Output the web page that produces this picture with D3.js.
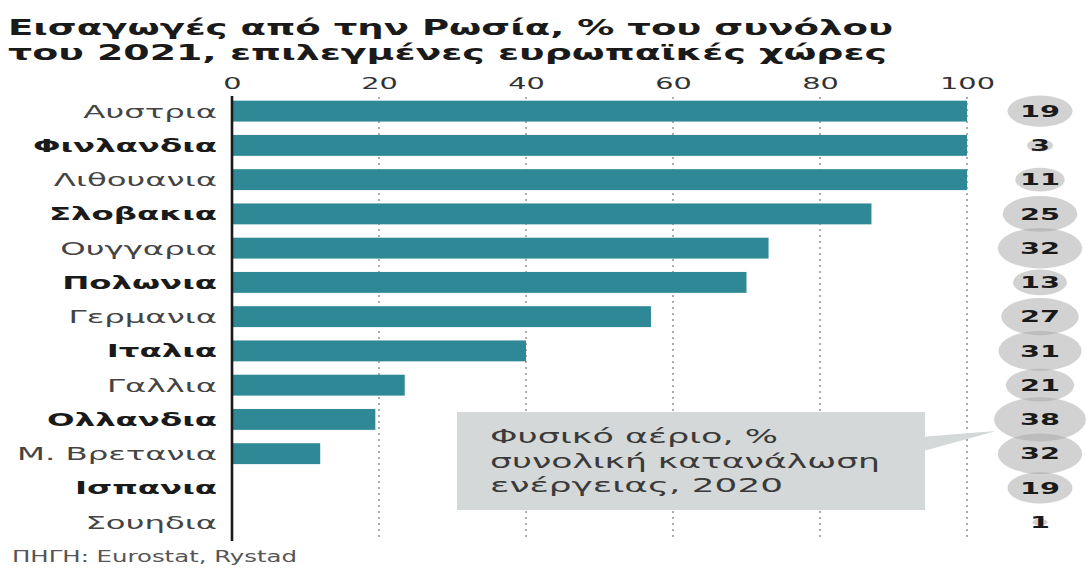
<!DOCTYPE html>
<html lang="el">
<head>
<meta charset="utf-8">
<script src="https://cdn.jsdelivr.net/npm/d3@7"></script>
<style>
  html, body { margin: 0; padding: 0; background: #fff; }
  svg { display: block; font-family: "DejaVu Sans", Verdana, sans-serif; }
</style>
</head>
<body>
<svg id="chart" width="1086" height="571"></svg>
<script>
// Imports from Russia, % of 2021 total, selected European countries
const countries = ["Αυστρια", "Φινλανδια", "Λιθουανια", "Σλοβακια", "Ουγγαρια", "Πολωνια",
  "Γερμανια", "Ιταλια", "Γαλλια", "Ολλανδια", "Μ. Βρετανια", "Ισπανια", "Σουηδια"];
const importShare = [100, 100, 100, 87, 73, 70, 57, 40, 23.5, 19.5, 12, 0, 0];
// Natural gas, % of total energy consumption, 2020
const gasShare = [19, 3, 11, 25, 32, 13, 27, 31, 21, 38, 32, 19, 1];
const xTicks = [0, 20, 40, 60, 80, 100];

const titleLines = ["Εισαγωγές από την Ρωσία, % του συνόλου",
                    "του 2021, επιλεγμένες ευρωπαϊκές χώρες"];
const calloutLines = ["Φυσικό αέριο, %", "συνολική κατανάλωση", "ενέργειας, 2020"];
const sourceText = "ΠΗΓΗ: Eurostat, Rystad";

// Typography in this layout is wide: glyphs are stretched horizontally
const S = 1.8;

const svg = d3.select("#chart");

const x = d3.scaleLinear().domain([0, 100]).range([232, 967]);
const y = d3.scaleBand().domain(countries).range([94, 539.3]).paddingInner(0.39).paddingOuter(0.195);
const rx = d3.scaleSqrt().domain([0, 38]).range([0, 46]);
const bubbleX = 1040;

// Title
svg.append("g").selectAll("text").data(titleLines).join("text")
  .attr("x", 8).attr("y", (d, i) => 35 + i * 25)
  .attr("font-size", 22).attr("font-weight", "bold").attr("fill", "#1a1a1a")
  .attr("textLength", (d, i) => i === 0 ? 885 : 879)
  .attr("lengthAdjust", "spacingAndGlyphs")
  .text(d => d);

// Dotted gridlines
svg.append("g").selectAll("line").data(xTicks.filter(d => d > 0)).join("line")
  .attr("x1", d => x(d)).attr("x2", d => x(d))
  .attr("y1", 97).attr("y2", 541)
  .attr("stroke", "#9a9a9a").attr("stroke-width", 1.6)
  .attr("stroke-dasharray", "2,4");

// Top axis labels
const xAxis = svg.append("g").attr("transform", "translate(0,89)")
  .call(d3.axisTop(x).tickValues(xTicks).tickSize(0).tickPadding(0));
xAxis.select(".domain").remove();
xAxis.selectAll("text")
  .attr("y", 0).attr("dy", 0)
  .attr("font-family", "DejaVu Sans, sans-serif")
  .attr("font-size", 16).attr("fill", "#333")
  .attr("transform", `scale(${S},1)`);

// Bars
svg.append("g").selectAll("rect").data(countries).join("rect")
  .attr("x", x(0))
  .attr("y", d => y(d))
  .attr("width", (d, i) => x(importShare[i]) - x(0))
  .attr("height", y.bandwidth())
  .attr("fill", "#2e8895");

// Country labels
const yAxis = svg.append("g").attr("transform", `translate(${x(0)},0)`)
  .call(d3.axisLeft(y).tickSize(0).tickPadding(0));
yAxis.select(".domain").remove();
yAxis.selectAll("text")
  .attr("x", -15 / S).attr("dy", "0.36em")
  .attr("font-family", "DejaVu Sans, sans-serif")
  .attr("font-size", 18)
  .attr("font-weight", (d, i) => i % 2 === 1 ? "bold" : "normal")
  .attr("fill", (d, i) => i % 2 === 1 ? "#1a1a1a" : "#444")
  .attr("transform", `scale(${S},1)`);

// Zero line
svg.append("line")
  .attr("x1", x(0)).attr("x2", x(0)).attr("y1", 96).attr("y2", 541)
  .attr("stroke", "#1a1a1a").attr("stroke-width", 2.6);

// Callout box with pointer
const callout = svg.append("g");
callout.append("path")
  .attr("d", "M 920 437 L 996 431 L 920 452 Z")
  .attr("fill", "#d4d8d8");
callout.append("rect")
  .attr("x", 457).attr("y", 412).attr("width", 468).attr("height", 98)
  .attr("fill", "#d4d8d8");
callout.selectAll("text").data(calloutLines).join("text")
  .attr("x", 490).attr("y", (d, i) => 443 + i * 24.5)
  .attr("font-size", 20).attr("fill", "#3a3a3a")
  .attr("textLength", (d, i) => [288, 390, 293][i])
  .attr("lengthAdjust", "spacingAndGlyphs")
  .text(d => d);

// Bubbles: natural gas share
const bubbles = svg.append("g");
bubbles.selectAll("ellipse").data(countries).join("ellipse")
  .attr("cx", bubbleX)
  .attr("cy", d => y(d) + y.bandwidth() / 2)
  .attr("rx", (d, i) => rx(gasShare[i]))
  .attr("ry", (d, i) => rx(gasShare[i]) * 0.48)
  .attr("fill", "#a6a6a6").attr("fill-opacity", 0.5);
bubbles.selectAll("text").data(countries).join("text")
  .attr("transform", d => `translate(${bubbleX},${y(d) + y.bandwidth() / 2}) scale(${S},1)`)
  .attr("dy", "0.36em").attr("text-anchor", "middle")
  .attr("font-size", 16).attr("font-weight", "bold").attr("fill", "#1a1a1a")
  .text((d, i) => gasShare[i]);

// Source
svg.append("text")
  .attr("x", 12).attr("y", 562)
  .attr("font-size", 15).attr("fill", "#555")
  .attr("textLength", 285).attr("lengthAdjust", "spacingAndGlyphs")
  .text(sourceText);
</script>
</body>
</html>
